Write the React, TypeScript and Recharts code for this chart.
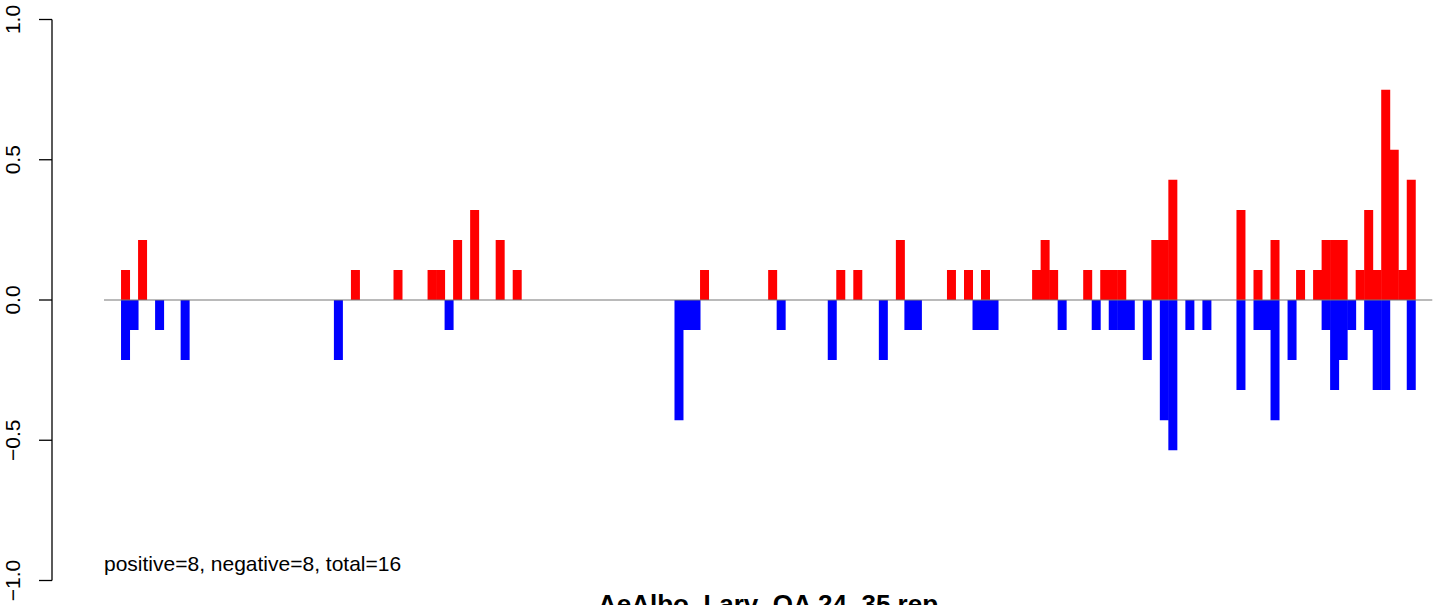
import { Bar, BarChart, ReferenceLine, XAxis, YAxis } from "recharts";

// bar slots along the x axis (2 empty slots on each side of the data)
const slotCount = 156;
const firstSlot = 2;

// [slot, value]
const upBars: [number, number][] = [
  [0, 0.107], [2, 0.214], [27, 0.107], [32, 0.107], [36, 0.107], [37, 0.107],
  [39, 0.214], [41, 0.321], [44, 0.214], [46, 0.107], [68, 0.107], [76, 0.107],
  [84, 0.107], [86, 0.107], [91, 0.214], [97, 0.107], [99, 0.107], [101, 0.107],
  [107, 0.107], [108, 0.214], [109, 0.107], [113, 0.107], [115, 0.107], [116, 0.107],
  [117, 0.107], [121, 0.214], [122, 0.214], [123, 0.429], [131, 0.321], [133, 0.107],
  [135, 0.214], [138, 0.107], [140, 0.107], [141, 0.214], [142, 0.214], [143, 0.214],
  [145, 0.107], [146, 0.321], [147, 0.107], [148, 0.75], [149, 0.536], [150, 0.107],
  [151, 0.429]
];

const downBars: [number, number][] = [
  [0, -0.214], [1, -0.107], [4, -0.107], [7, -0.214], [25, -0.214], [38, -0.107],
  [65, -0.429], [66, -0.107], [67, -0.107], [77, -0.107], [83, -0.214], [89, -0.214],
  [92, -0.107], [93, -0.107], [100, -0.107], [101, -0.107], [102, -0.107], [110, -0.107],
  [114, -0.107], [116, -0.107], [117, -0.107], [118, -0.107], [120, -0.214], [122, -0.429],
  [123, -0.536], [125, -0.107], [127, -0.107], [131, -0.321], [133, -0.107], [134, -0.107],
  [135, -0.429], [137, -0.214], [141, -0.107], [142, -0.321], [143, -0.214], [144, -0.107],
  [146, -0.107], [147, -0.321], [148, -0.321], [151, -0.321]
];

const yTicks = [-1, -0.5, 0, 0.5, 1];
const yTickLabels = ["\u22121.0", "\u22120.5", "0.0", "0.5", "1.0"];

const note = "positive=8, negative=8, total=16";
const title = "AeAlbo_Larv_OA 24_35 rep";

const upMap = new Map(upBars);
const downMap = new Map(downBars);
const data = Array.from({ length: slotCount }, (_, i) => ({
  slot: String(i),
  up: upMap.get(i - firstSlot) ?? 0,
  down: downMap.get(i - firstSlot) ?? 0
}));

const font = "'Liberation Sans', Arial, Helvetica, sans-serif";
const axisGap = 52; // distance between plot edge and the drawn axis line

// tick mark + rotated label, drawn out at the detached axis line
function AxisTick(props: any) {
  const { x, y, payload } = props;
  const label = yTickLabels[yTicks.indexOf(payload.value)];
  const ax = x - axisGap;
  return (
    <g>
      <line x1={ax - 13} x2={ax} y1={y} y2={y} stroke="#000" strokeWidth={1.3} />
      <g transform={`translate(${ax - 32}, ${y}) rotate(-90)`}>
        <text x={0} y={0} textAnchor="middle" fontSize={21} fontFamily={font} fill="#000">
          {label}
        </text>
      </g>
    </g>
  );
}

export default function App() {
  return (
    <div style={{ position: "absolute", left: 0, top: 0, width: 1444, height: 605, background: "#fff" }}>
      <BarChart
        width={1444}
        height={605}
        data={data}
        stackOffset="sign"
        barCategoryGap={0}
        barGap={0}
        margin={{ top: 19.5, right: 11.7, bottom: 24.5, left: 0 }}
      >
        <XAxis dataKey="slot" hide />
        <YAxis
          yAxisId="inner"
          width={52}
          domain={[-1, 1]}
          ticks={yTicks}
          interval={0}
          axisLine={false}
          tickLine={false}
          tickSize={0}
          tickMargin={0}
          tick={<AxisTick />}
        />
        <YAxis
          yAxisId="outer"
          width={52}
          domain={[-1, 1]}
          axisLine={{ stroke: "#000", strokeWidth: 1.3 }}
          tickLine={false}
          tick={false}
        />
        <ReferenceLine yAxisId="inner" y={0} stroke="#777" strokeWidth={1.2} />
        <Bar yAxisId="inner" dataKey="up" stackId="s" fill="#ff0000" isAnimationActive={false} />
        <Bar yAxisId="inner" dataKey="down" stackId="s" fill="#0000ff" isAnimationActive={false} />
      </BarChart>
      <svg
        width={1444}
        height={605}
        style={{ position: "absolute", left: 0, top: 0, pointerEvents: "none" }}
      >
        <text x={104} y={571} fontSize={21} fontFamily={font} fill="#000">
          {note}
        </text>
        <text x={768} y={613} fontSize={26} fontWeight="bold" fontFamily={font} textAnchor="middle" fill="#000">
          {title}
        </text>
      </svg>
    </div>
  );
}
